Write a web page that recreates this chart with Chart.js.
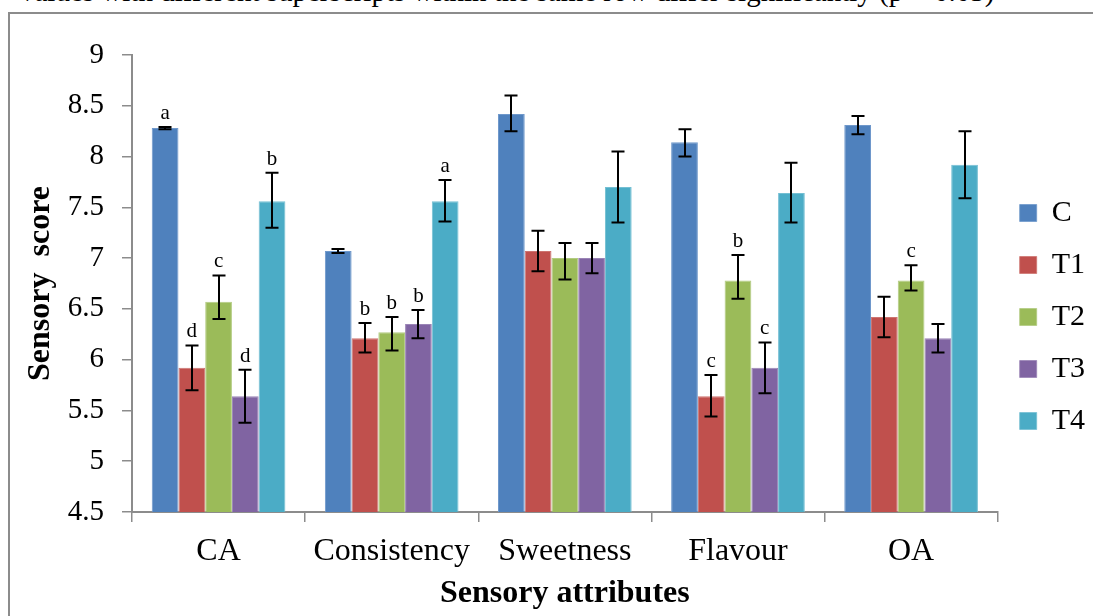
<!DOCTYPE html>
<html>
<head>
<meta charset="utf-8">
<title>Sensory score by attribute</title>
<script src="https://cdn.jsdelivr.net/npm/chart.js@4.4.0/dist/chart.umd.min.js"></script>
<style>
  html, body { margin: 0; padding: 0; background: #fff; width: 1093px; height: 616px; overflow: hidden; }
  #note { position: absolute; left: 20px; top: -23px; white-space: nowrap; color: #000;
          font: 29px 'Liberation Serif', 'Times New Roman', serif; line-height: 29px; }
  #frame { position: absolute; left: 8px; top: 12px; width: 1300px; height: 800px;
           border-left: 2px solid #8c8c8c; border-top: 2px solid #8c8c8c; }
  #wrap { position: absolute; left: 0; top: 0; width: 1093px; height: 616px; }
</style>
</head>
<body>
<div id="note">values with different superscripts within the same row differ significantly (p &lt; 0.05)</div>
<div id="frame"></div>
<div id="wrap"><canvas id="chart" width="1093" height="616"></canvas></div>
<script>
// Sensory attributes on the x axis
const categories = ['CA', 'Consistency', 'Sweetness', 'Flavour', 'OA'];

// Mean sensory scores per treatment
const scoreC  = [8.28, 7.07, 8.42, 8.14, 8.31];
const scoreT1 = [5.92, 6.21, 7.07, 5.64, 6.42];
const scoreT2 = [6.57, 6.27, 7.00, 6.78, 6.78];
const scoreT3 = [5.64, 6.35, 7.00, 5.92, 6.21];
const scoreT4 = [7.56, 7.56, 7.70, 7.64, 7.92];

// Error bar arms (upper / lower)
const errUpC    = [0.01, 0.02, 0.18, 0.13, 0.09];
const errDownC  = [0.01, 0.02, 0.17, 0.14, 0.09];
const errUpT1   = [0.22, 0.15, 0.20, 0.21, 0.20];
const errDownT1 = [0.22, 0.14, 0.20, 0.20, 0.20];
const errUpT2   = [0.26, 0.15, 0.15, 0.25, 0.15];
const errDownT2 = [0.17, 0.18, 0.21, 0.18, 0.10];
const errUpT3   = [0.26, 0.14, 0.15, 0.25, 0.14];
const errDownT3 = [0.26, 0.14, 0.15, 0.25, 0.14];
const errUpT4   = [0.28, 0.21, 0.35, 0.30, 0.33];
const errDownT4 = [0.26, 0.20, 0.35, 0.29, 0.33];

// Significance letters above the bars
const lettersC  = ['a', '',  '', '',  ''];
const lettersT1 = ['d', 'b', '', 'c', ''];
const lettersT2 = ['c', 'b', '', 'b', 'c'];
const lettersT3 = ['d', 'b', '', 'c', ''];
const lettersT4 = ['b', 'a', '', '',  ''];

// Value axis range
const yMin = 4.5;
const yMax = 9;
const yStep = 0.5;

const serif = "'Liberation Serif', 'Times New Roman', serif";

function series(label, data, up, down, letters, fill, edge) {
  return {
    label, data, errUp: up, errDown: down, letters,
    backgroundColor: fill,
    borderColor: edge,
    borderWidth: { left: 1, right: 1, top: 1, bottom: 0 },
    borderSkipped: 'bottom'
  };
}

// Draws the error bars and the letters above them
const errorBarPlugin = {
  id: 'errorBars',
  afterDatasetsDraw(chart) {
    const { ctx } = chart;
    const y = chart.scales.y;
    ctx.save();
    ctx.strokeStyle = '#000';
    ctx.fillStyle = '#000';
    ctx.lineWidth = 2;
    ctx.font = '21px ' + serif;
    ctx.textAlign = 'center';
    ctx.textBaseline = 'alphabetic';
    chart.data.datasets.forEach((ds, i) => {
      const meta = chart.getDatasetMeta(i);
      meta.data.forEach((bar, j) => {
        const v = ds.data[j];
        const top = y.getPixelForValue(v + ds.errUp[j]);
        const bottom = y.getPixelForValue(v - ds.errDown[j]);
        const x = Math.round(bar.x);
        const cap = 6.5;
        ctx.beginPath();
        ctx.moveTo(x, top);
        ctx.lineTo(x, bottom);
        ctx.moveTo(x - cap, top);
        ctx.lineTo(x + cap, top);
        ctx.moveTo(x - cap, bottom);
        ctx.lineTo(x + cap, bottom);
        ctx.stroke();
        if (ds.letters[j]) {
          ctx.fillText(ds.letters[j], bar.x, top - 8);
        }
      });
    });
    ctx.restore();
  }
};

const axisGray = '#8c8c8c';

new Chart(document.getElementById('chart'), {
  type: 'bar',
  data: {
    labels: categories,
    datasets: [
      series('C',  scoreC,  errUpC,  errDownC,  lettersC,  '#4f81bd', '#6f98cb'),
      series('T1', scoreT1, errUpT1, errDownT1, lettersT1, '#c0504d', '#cd7470'),
      series('T2', scoreT2, errUpT2, errDownT2, lettersT2, '#9bbb59', '#b2cb80'),
      series('T3', scoreT3, errUpT3, errDownT3, lettersT3, '#8064a2', '#9a84b6'),
      series('T4', scoreT4, errUpT4, errDownT4, lettersT4, '#4bacc6', '#74bfd3')
    ]
  },
  options: {
    responsive: false,
    devicePixelRatio: 1,
    animation: false,
    categoryPercentage: 0.772,
    barPercentage: 1.0,
    layout: { padding: { left: 10, right: -2, top: 55, bottom: 37 } },
    plugins: {
      tooltip: { enabled: false },
      legend: {
        position: 'right',
        align: 'center',
        labels: {
          boxWidth: 17,
          boxHeight: 17,
          padding: 22,
          color: '#000',
          font: { family: serif, size: 30 }
        }
      }
    },
    scales: {
      x: {
        afterFit: s => { s.height = 67; },
        grid: { offset: true, drawOnChartArea: false, drawTicks: true, tickLength: 10, color: axisGray, lineWidth: 1.5 },
        border: { color: axisGray, width: 2 },
        ticks: { color: '#000', padding: 10, font: { family: serif, size: 32 } },
        title: {
          display: true,
          text: 'Sensory attributes',
          color: '#000',
          padding: { top: 0, bottom: -34 },
          font: { family: serif, size: 32, weight: 'bold' }
        }
      },
      y: {
        min: yMin,
        max: yMax,
        afterFit: s => { s.width = 122; },
        grid: { drawOnChartArea: false, drawTicks: true, tickLength: 10, color: axisGray, lineWidth: 1.5 },
        border: { color: axisGray, width: 2 },
        ticks: {
          stepSize: yStep,
          color: '#000',
          padding: 18,
          font: { family: serif, size: 29 },
          callback: v => String(Number(v.toFixed(1)))
        },
        title: {
          display: true,
          text: 'Sensory  score',
          color: '#000',
          padding: { top: 12, bottom: 0 },
          font: { family: serif, size: 32, weight: 'bold' }
        }
      }
    }
  },
  plugins: [errorBarPlugin]
});
</script>
</body>
</html>
